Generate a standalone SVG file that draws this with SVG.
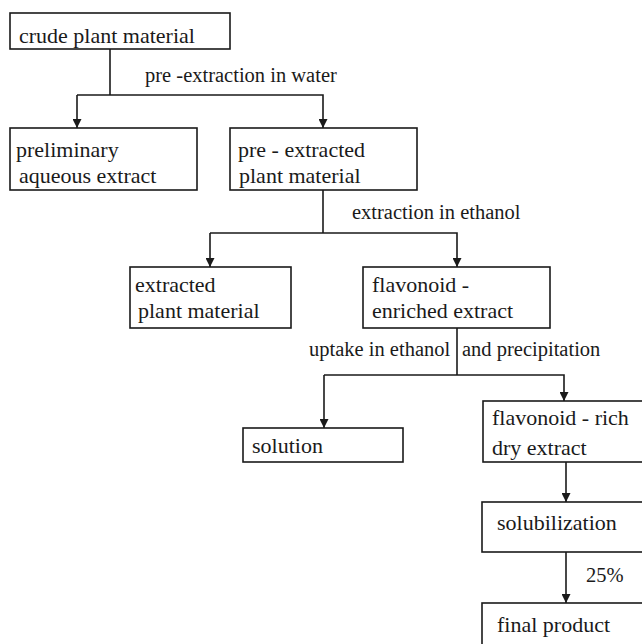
<svg xmlns="http://www.w3.org/2000/svg" width="642" height="644" viewBox="0 0 642 644" font-family="Liberation Serif, DejaVu Serif, serif">
<style>
.box{fill:#fff;stroke:#1a1a1a;stroke-width:1.6}
.t{font-size:22px;fill:#1a1a1a}
.l{font-size:20.5px;fill:#1a1a1a}
.c{fill:none;stroke:#1a1a1a;stroke-width:1.6}
</style>
<defs>
<marker id="ah" viewBox="0 0 10 10" refX="10" refY="5" markerWidth="9" markerHeight="9" markerUnits="userSpaceOnUse" orient="auto">
<path d="M0,0 L10,5 L0,10 z" fill="#1a1a1a"/>
</marker>
</defs>
<rect width="642" height="644" fill="#fff"/>
<g id="connectors">
<path class="c" d="M110,49 V95"/>
<path class="c" d="M77,95 H323 V128" marker-end="url(#ah)"/>
<path class="c" d="M77,95 V128" marker-end="url(#ah)"/>
<path class="c" d="M323,190 V233"/>
<path class="c" d="M210,233 H457 V267" marker-end="url(#ah)"/>
<path class="c" d="M210,233 V267" marker-end="url(#ah)"/>
<path class="c" d="M457,328 V375"/>
<path class="c" d="M324,375 H564 V401" marker-end="url(#ah)"/>
<path class="c" d="M324,375 V428" marker-end="url(#ah)"/>
<path class="c" d="M566,462 V502" marker-end="url(#ah)"/>
<path class="c" d="M566,552 V603" marker-end="url(#ah)"/>
<text class="l" x="145" y="82">pre -extraction in water</text>
<text class="l" x="352" y="219">extraction in ethanol</text>
<text class="l" x="309" y="356">uptake in ethanol</text>
<text class="l" x="462" y="356">and precipitation</text>
<text class="l" x="586" y="582">25%</text>
</g>
<g id="crude">
<rect class="box" x="10" y="13" width="220" height="36"/>
<text class="t" x="19" y="43">crude plant material</text>
</g>
<g id="preliminary">
<rect class="box" x="10" y="128" width="187" height="62"/>
<text class="t" x="16" y="157">preliminary</text>
<text class="t" x="19" y="183">aqueous extract</text>
</g>
<g id="preextracted">
<rect class="box" x="230" y="128" width="187" height="62"/>
<text class="t" x="238" y="157">pre - extracted</text>
<text class="t" x="239" y="183">plant material</text>
</g>
<g id="extracted">
<rect class="box" x="130" y="267" width="161" height="61"/>
<text class="t" x="135" y="292">extracted</text>
<text class="t" x="138" y="318">plant material</text>
</g>
<g id="enriched">
<rect class="box" x="363" y="267" width="187" height="61"/>
<text class="t" x="372" y="292">flavonoid -</text>
<text class="t" x="372" y="318">enriched extract</text>
</g>
<g id="solution">
<rect class="box" x="243" y="428" width="160" height="34"/>
<text class="t" x="252" y="453">solution</text>
</g>
<g id="rich">
<rect class="box" x="483" y="401" width="170" height="61"/>
<text class="t" x="492" y="425">flavonoid - rich</text>
<text class="t" x="492" y="455">dry extract</text>
</g>
<g id="solubilization">
<rect class="box" x="482" y="502" width="171" height="50"/>
<text class="t" x="497" y="530">solubilization</text>
</g>
<g id="final">
<rect class="box" x="482" y="603" width="171" height="60"/>
<text class="t" x="497" y="632">final product</text>
</g>
</svg>
